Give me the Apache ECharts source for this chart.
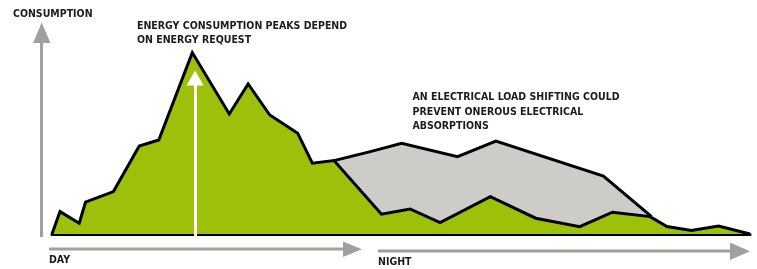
<!DOCTYPE html>
<html>
<head>
<meta charset="utf-8">
<script src="https://cdn.jsdelivr.net/npm/echarts@6/dist/echarts.min.js"></script>
<style>
  html, body { margin: 0; padding: 0; background: #fff; }
  #chart { width: 757px; height: 269px; }
</style>
</head>
<body>
<div id="chart"></div>
<script>
// time of day (0 = morning .. 100 = end of night), consumption 0..100
const greenX = [0, 1.15, 3.9, 4.8, 8.8, 12.5, 15.3, 20.1, 25.4, 28.1, 31.2, 35.2, 37.3, 40.4,
    47.2, 51.3, 55.6, 62.8, 69.3, 75.6, 80.3, 85.7, 88.1, 91.6, 95.5, 100];
const greenY = [0, 11.2, 5.4, 15.9, 21.2, 44, 47, 90.7, 60, 75, 59.5, 50.4, 35.4, 36.7,
    9.9, 12.5, 5.7, 18.7, 7.9, 3.7, 10.9, 8.7, 3.7, 1.7, 4, 0];

// shifted load (grey) upper edge
const shiftX = [40.4, 45.6, 50.1, 58.1, 63.6, 79, 85.9];
const shiftY = [36.7, 41.2, 45.4, 38.7, 46.5, 29, 8.7];

const peakX = 20.5;
const peakArrowTop = 78;

const FONT = '"DejaVu Sans Condensed", "Liberation Sans Narrow", sans-serif';
const ARROW = '#a0a09c';

const chart = echarts.init(document.getElementById('chart'), null, { renderer: 'canvas' });

function label(x, y, text, lh) {
    return {
        type: 'text', x: x, y: y, z: 10,
        style: {
            text: text, fill: '#1c1c1c', font: 'bold 10.5px ' + FONT,
            lineHeight: lh || 13, verticalAlign: 'top'
        }
    };
}

function grayArrow(x1, y1, x2, y2, head) {
    return [{
        type: 'line', z: 5,
        shape: { x1: x1, y1: y1, x2: x2, y2: y2 },
        style: { stroke: ARROW, lineWidth: 3 }
    }, {
        type: 'polygon', z: 5,
        shape: { points: head },
        style: { fill: ARROW }
    }];
}

let option = {
    animation: false,
    backgroundColor: '#fff',
    grid: { left: 52, right: 7, top: 34, bottom: 29 },
    xAxis: {
        type: 'value', min: 0, max: 100,
        axisLine: { show: true, onZero: true, lineStyle: { color: '#000', width: 3 } },
        axisTick: { show: false }, axisLabel: { show: false }, splitLine: { show: false }
    },
    yAxis: {
        type: 'value', min: -3, max: 100,
        axisLine: { show: false }, axisTick: { show: false },
        axisLabel: { show: false }, splitLine: { show: false }
    },
    series: [{
        name: 'shifted',
        type: 'line',
        data: shiftX.map((x, i) => [x, shiftY[i]]),
        showSymbol: false,
        clip: false,
        lineStyle: { color: '#000', width: 3, join: 'miter' },
        areaStyle: { color: '#cdccc9', opacity: 1, origin: 0 }
    }, {
        name: 'consumption',
        type: 'line',
        data: greenX.map((x, i) => [x, greenY[i]]),
        showSymbol: false,
        clip: false,
        lineStyle: { color: '#000', width: 3, join: 'miter' },
        areaStyle: { color: '#9dc10a', opacity: 1, origin: 0 },
        markLine: {
            silent: true,
            symbol: ['none', 'triangle'],
            symbolSize: [17, 15],
            label: { show: false },
            lineStyle: { color: '#fff', width: 3, type: 'solid' },
            data: [[{ coord: [peakX, -2.5] }, { coord: [peakX, peakArrowTop] }]]
        }
    }],
    graphic: [
        ...grayArrow(41.5, 237, 41.5, 40, [[33, 43], [50.5, 43], [41.7, 22.5]]),
        ...grayArrow(49, 249, 345, 249, [[343, 241.5], [343, 257], [362, 249.2]]),
        ...grayArrow(378, 251, 732, 251, [[730, 242.5], [730, 260], [750, 251.2]]),
        label(13, 8, 'CONSUMPTION'),
        label(137, 20, 'ENERGY CONSUMPTION PEAKS DEPEND\nON ENERGY REQUEST', 13.4),
        label(412.5, 90.5, 'AN ELECTRICAL LOAD SHIFTING COULD\nPREVENT ONEROUS ELECTRICAL\nABSORPTIONS', 14.2),
        label(49, 254, 'DAY'),
        label(378, 255.5, 'NIGHT')
    ]
};

chart.setOption(option);
</script>
</body>
</html>
